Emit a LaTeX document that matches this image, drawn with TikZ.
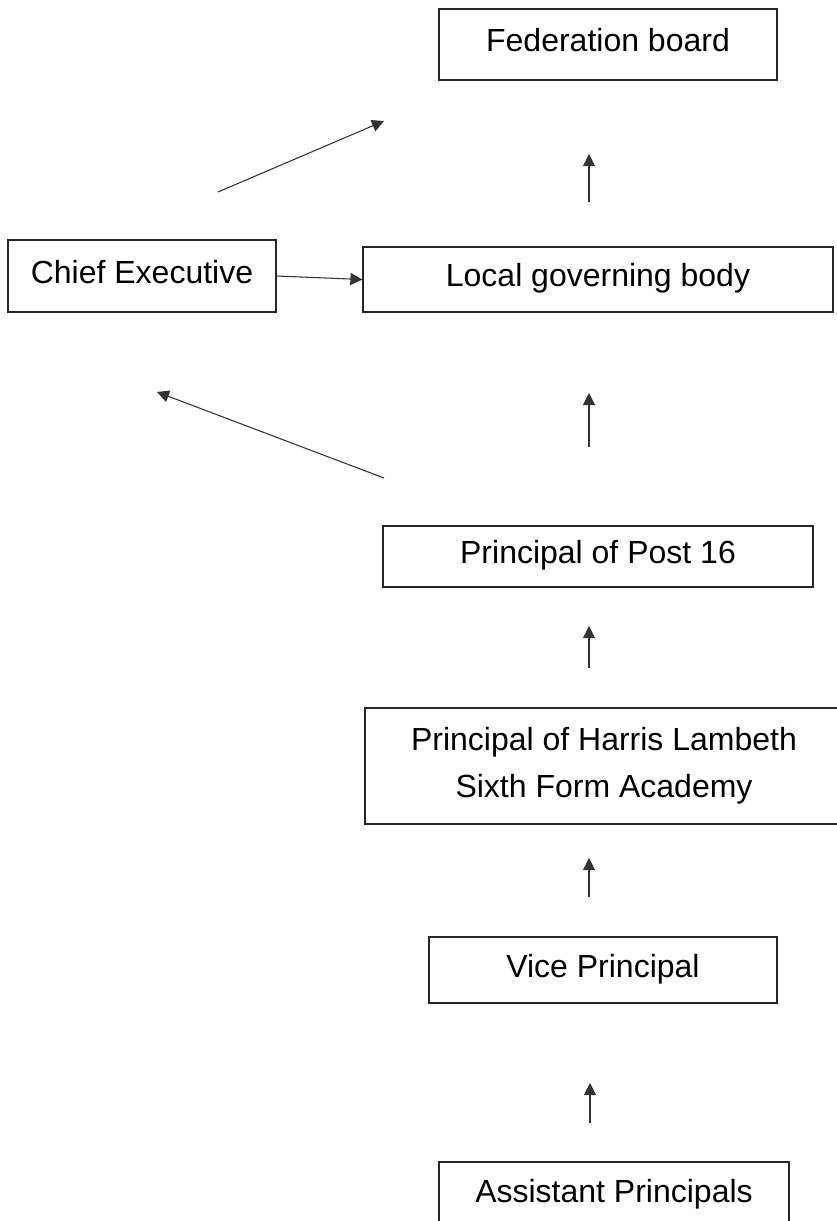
\documentclass[tikz,border=0pt]{standalone}
\usepackage{fontspec}
\setmainfont{Liberation Sans}
\usepackage{tikz}
\usetikzlibrary{arrows.meta, positioning}

\tikzset{
    post/.style={draw=black!85, line width=0.9pt, inner sep=0pt,
        font=\fontsize{24}{35}\selectfont, text height=17pt, text depth=6.5pt},
    arr/.style={-{Triangle[length=9pt, width=9pt]}, line width=0.8pt, black!80}
}

\begin{document}
\begin{tikzpicture}[x=0.75pt, y=-0.75pt]
    \useasboundingbox (0,0) rectangle (836,1221);

    % Boxes
    \node[post, minimum width=253.5pt, minimum height=53.25pt] (fed) at (608,44.5) {Federation board};
    \node[post, minimum width=201pt, minimum height=54pt] (ceo) at (142,276) {Chief Executive};
    \node[post, minimum width=352.5pt, minimum height=48.75pt] (lgb) at (598,279.5) {Local governing body};
    \node[post, minimum width=322.5pt, minimum height=45.75pt] (p16) at (598,556.5) {Principal of Post 16};
    \node[draw=black!85, line width=0.9pt, inner sep=0pt, align=center,
          font=\fontsize{24}{35}\selectfont,
          minimum width=358.5pt, minimum height=87pt] (hlsfa) at (604,766)
          {Principal of Harris Lambeth\\Sixth Form Academy};
    \node[post, minimum width=261pt, minimum height=49.5pt] (vp) at (603,970) {Vice Principal};
    \node[post, minimum width=262.5pt, minimum height=49.5pt] (ap) at (614,1195) {Assistant Principals};

    % Free arrow ends
    \coordinate (ceoUpS) at (218,192);
    \coordinate (ceoUpE) at (384,121);
    \coordinate (lgbUpS) at (589,202);
    \coordinate (lgbUpE) at (589,154);
    \coordinate (ceoInS) at (384,478);
    \coordinate (ceoInE) at (157,392);
    \coordinate (p16UpS) at (589,447);
    \coordinate (p16UpE) at (589,393);
    \coordinate (hlUpS) at (589,668);
    \coordinate (hlUpE) at (589,626);
    \coordinate (vpUpS) at (589,897);
    \coordinate (vpUpE) at (589,858);
    \coordinate (apUpS) at (590,1123);
    \coordinate (apUpE) at (590,1083);

    % Arrows
    \draw[arr] (ceoUpS) -- (ceoUpE);
    \draw[arr] (ceo.east) -- (lgb.west);
    \draw[arr] (lgbUpS) -- (lgbUpE);
    \draw[arr] (ceoInS) -- (ceoInE);
    \draw[arr] (p16UpS) -- (p16UpE);
    \draw[arr] (hlUpS) -- (hlUpE);
    \draw[arr] (vpUpS) -- (vpUpE);
    \draw[arr] (apUpS) -- (apUpE);

\end{tikzpicture}
\end{document}
